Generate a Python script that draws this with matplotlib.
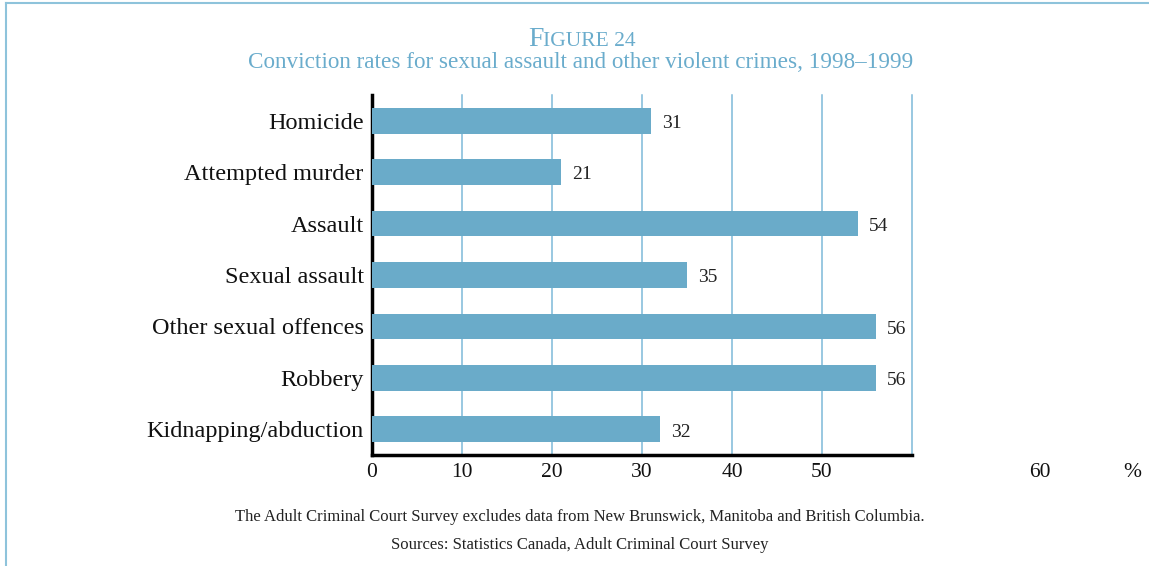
import matplotlib
matplotlib.use('Agg')
import matplotlib.pyplot as plt
from matplotlib.lines import Line2D
import matplotlib.transforms as mtransforms

# Conviction rates (%) by offence, 1998-1999
offences = ['Homicide', 'Attempted murder', 'Assault', 'Sexual assault',
            'Other sexual offences', 'Robbery', 'Kidnapping/abduction']
rates = [31, 21, 54, 35, 56, 56, 32]
x_ticks = [0, 10, 20, 30, 40, 50]
grid_lines = [10, 20, 30, 40, 50, 60]

BLUE = '#6aabc9'
GRID = '#7db9d9'
TITLE = '#6aaccc'
SERIF = ['Liberation Serif', 'DejaVu Serif']

plt.rcParams['font.family'] = SERIF

fig = plt.figure(figsize=(11.49, 5.66), dpi=100)
ax = fig.add_axes([0.3238, 0.1961, 0.4699, 0.6361])

ypos = list(range(len(offences)))
ax.barh(ypos, rates, height=0.5, color=BLUE, zorder=3)
for y, v in zip(ypos, rates):
    ax.annotate(str(v), (v, y), xytext=(8, -2), textcoords='offset points',
                va='center', ha='left', fontsize=14, color='#222222')

for g in grid_lines:
    ax.axvline(g, color=GRID, lw=1.1, zorder=1, clip_on=False)

ax.set_xlim(0, 60)
ax.set_ylim(len(offences) - 0.5, -0.5)
ax.set_yticks(ypos)
ax.set_yticklabels(offences, fontsize=17.5, color='#111111')
ax.set_xticks(x_ticks)
ax.set_xticklabels([str(t) for t in x_ticks], fontsize=15.5, color='#111111')
ax.tick_params(length=0, pad=6)
ax.tick_params(axis='x', pad=6)

for side in ['top', 'right']:
    ax.spines[side].set_visible(False)
for side in ['left', 'bottom']:
    ax.spines[side].set_linewidth(2.5)
    ax.spines[side].set_color('black')

# "60" and "%" sit out to the right of the axis
trans = mtransforms.blended_transform_factory(fig.transFigure, ax.transAxes)
shift = mtransforms.ScaledTranslation(0, -6 / 72, fig.dpi_scale_trans)
ax.text(1040 / 1149, 0, '60', transform=trans + shift, ha='center', va='top',
        fontsize=15.5, color='#111111')
ax.text(1132 / 1149, 0, '%', transform=trans + shift, ha='center', va='top',
        fontsize=15.5, color='#111111')

# Heading in small caps
fig.canvas.draw()
r = fig.canvas.get_renderer()
head_big = fig.text(0.5, 1 - 46 / 566, 'F', fontsize=20, color=TITLE,
                    ha='left', va='baseline')
head_small = fig.text(0.5, 1 - 46 / 566, 'IGURE 24', fontsize=15.5, color=TITLE,
                      ha='left', va='baseline')
w1 = head_big.get_window_extent(r).width
w2 = head_small.get_window_extent(r).width
x0 = 582 - (w1 + w2) / 2
head_big.set_x(x0 / 1149)
head_small.set_x((x0 + w1) / 1149)

fig.text(581 / 1149, 1 - 62 / 566,
         'Conviction rates for sexual assault and other violent crimes, 1998\u20131999',
         fontsize=16.7, color=TITLE, ha='center', va='center')

fig.text(580 / 1149, 1 - 517 / 566,
         'The Adult Criminal Court Survey excludes data from New Brunswick, '
         'Manitoba and British Columbia.',
         fontsize=12, color='#222222', ha='center', va='center')
fig.text(580 / 1149, 1 - 545 / 566,
         'Sources: Statistics Canada, Adult Criminal Court Survey',
         fontsize=12, color='#222222', ha='center', va='center')

# Frame along the top and left edges
frame = '#8ec3db'
fig.add_artist(Line2D([6 / 1149, 6 / 1149], [0, 1 - 3 / 566], color=frame, lw=1.5,
                      transform=fig.transFigure))
fig.add_artist(Line2D([6 / 1149, 1], [1 - 3 / 566, 1 - 3 / 566], color=frame, lw=1.5,
                      transform=fig.transFigure))

fig.savefig('out.png', dpi=100)
